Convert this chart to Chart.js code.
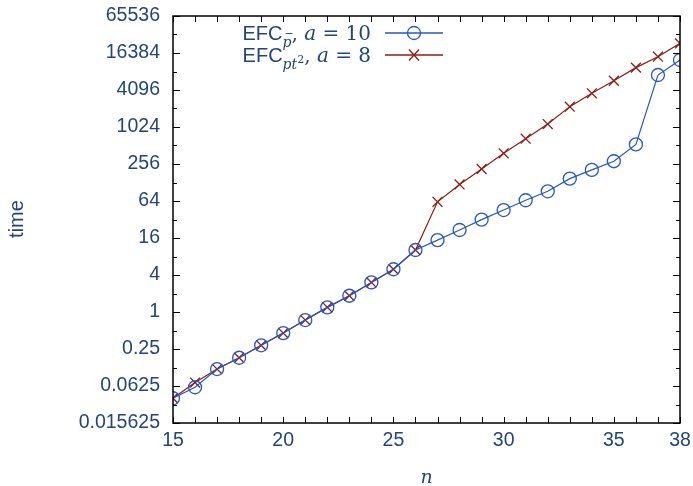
<!DOCTYPE html>
<html>
<head>
<meta charset="utf-8">
<script src="https://cdn.jsdelivr.net/npm/chart.js@4"></script>
<style>
  html, body { margin: 0; padding: 0; background: #fff; }
  #wrap { width: 693px; height: 486px; }
</style>
</head>
<body>
<div id="wrap"><canvas id="c" width="693" height="486"></canvas></div>
<script>
// values
const nValues = [15, 16, 17, 18, 19, 20, 21, 22, 23, 24, 25, 26, 27, 28, 29, 30, 31, 32, 33, 34, 35, 36, 37, 38]
const timeP = [0.0395, 0.0596, 0.118, 0.18, 0.287, 0.454, 0.74, 1.19, 1.84, 3.03, 4.96, 10.2,
  14.8, 21.6, 31.8, 45.6, 65.8, 92, 148, 205, 284, 534, 7180, 12600]
const timePt2 = [0.0395, 0.071, 0.118, 0.18, 0.287, 0.454, 0.74, 1.19, 1.84, 3.03, 4.96, 10.2,
  62, 119, 212, 382, 662, 1144, 2195, 3615, 5800, 9470, 14260, 23500]
const yTickValues = [0.015625, 0.0625, 0.25, 1, 4, 16, 64, 256, 1024, 4096, 16384, 65536]
const xTickValues = [15, 20, 25, 30, 35, 38]

const textColor = "#23457e"
const blue = "#2456cc"
const red = "#8e1c12"
const sans = "'Liberation Sans', sans-serif"
const serif = "'DejaVu Serif', serif"

const framePlugin = {
  id: "frame",
  afterDatasetsDraw(chart) {
    const { ctx, chartArea: a, scales } = chart
    const x = scales.x, y = scales.y
    ctx.save()
    ctx.strokeStyle = "#000"
    ctx.lineWidth = 1.5
    ctx.strokeRect(a.left, a.top, a.right - a.left, a.bottom - a.top)
    ctx.lineWidth = 1
    ctx.beginPath()
    for (let n = 15; n <= 38; n++) {
      const px = Math.round(x.getPixelForValue(n)) + 0.5
      ctx.moveTo(px, a.bottom); ctx.lineTo(px, a.bottom - 6)
      ctx.moveTo(px, a.top); ctx.lineTo(px, a.top + 6)
    }
    for (let e = -6; e <= 16; e++) {
      const py = Math.round(y.getPixelForValue(Math.pow(2, e))) + 0.5
      const len = e % 2 === 0 ? 7 : 4
      ctx.moveTo(a.left, py); ctx.lineTo(a.left + len, py)
      ctx.moveTo(a.right, py); ctx.lineTo(a.right - len, py)
    }
    ctx.stroke()

    // axis titles
    ctx.fillStyle = textColor
    ctx.font = "italic 19px " + serif
    ctx.textAlign = "center"
    ctx.textBaseline = "alphabetic"
    ctx.fillText("n", (a.left + a.right) / 2, 483)
    ctx.save()
    ctx.translate(17, 219)
    ctx.rotate(-Math.PI / 2)
    ctx.font = "20px " + sans
    ctx.textBaseline = "middle"
    ctx.fillText("time", 0, 0)
    ctx.restore()

    // legend
    drawLegendRow(ctx, 33, "p", "\u2212", "10", blue, "circle")
    drawLegendRow(ctx, 55, "pt", "2", "8", red, "cross")
    ctx.restore()
  }
}

function drawLegendRow(ctx, yMid, sub, sup, aVal, color, marker) {
  const base = yMid + 7
  ctx.font = "11px " + serif
  const supW = ctx.measureText(sup).width
  const parts = [
    { t: "EFC", f: "20px " + sans, dy: 0 },
    { t: sub, f: "italic 14px " + serif, dy: 7, sub: true },
    { t: ",", f: "20px " + serif, dy: 0 },
    { t: " a", f: "italic 20px " + serif, dy: 0 },
    { t: " = " + aVal, f: "20px " + serif, dy: 0 }
  ]
  let total = 0
  parts.forEach(p => {
    ctx.font = p.f
    p.w = ctx.measureText(p.t).width
    if (p.sub && sup === "2") p.w += supW
    total += p.w
  })
  let cx = 371 - total
  ctx.fillStyle = textColor
  ctx.textAlign = "left"
  ctx.textBaseline = "alphabetic"
  parts.forEach(p => {
    ctx.font = p.f
    ctx.fillText(p.t, cx, base + p.dy)
    if (p.sub) {
      ctx.font = "11px " + serif
      if (sup === "2") ctx.fillText(sup, cx + p.w - supW, base + 1)
      else ctx.fillText(sup, cx + 2, base - 3)
    }
    cx += p.w
  })
  ctx.strokeStyle = color
  ctx.lineWidth = 1.3
  ctx.beginPath()
  ctx.moveTo(385, yMid); ctx.lineTo(443, yMid)
  ctx.stroke()
  ctx.beginPath()
  if (marker === "circle") {
    ctx.arc(414, yMid, 6.5, 0, Math.PI * 2)
  } else {
    ctx.moveTo(409, yMid - 5.5); ctx.lineTo(419, yMid + 5.5)
    ctx.moveTo(409, yMid + 5.5); ctx.lineTo(419, yMid - 5.5)
  }
  ctx.stroke()
}

new Chart(document.getElementById("c").getContext("2d"), {
  type: "line",
  data: {
    datasets: [
      {
        label: "EFC p, a = 10",
        data: nValues.map((n, i) => ({ x: n, y: timeP[i] })),
        borderColor: blue,
        backgroundColor: "transparent",
        borderWidth: 1.2,
        pointStyle: "circle",
        pointRadius: 6.5,
        pointBorderWidth: 1.3,
        pointBorderColor: blue,
        pointBackgroundColor: "transparent",
        tension: 0
      },
      {
        label: "EFC pt2, a = 8",
        data: nValues.map((n, i) => ({ x: n, y: timePt2[i] })),
        borderColor: red,
        backgroundColor: "transparent",
        borderWidth: 1.2,
        pointStyle: "crossRot",
        pointRadius: 7,
        pointBorderWidth: 1.3,
        pointBorderColor: red,
        tension: 0
      }
    ]
  },
  options: {
    responsive: false,
    animation: false,
    devicePixelRatio: 1,
    layout: { padding: { top: 16, right: 13, left: 0, bottom: 0 } },
    plugins: { legend: { display: false }, tooltip: { enabled: false } },
    scales: {
      x: {
        type: "linear",
        min: 15,
        max: 38,
        afterBuildTicks: s => { s.ticks = xTickValues.map(v => ({ value: v })) },
        afterFit: s => { s.height = 63; s.paddingLeft = 0; s.paddingRight = 0 },
        grid: { display: false, drawTicks: false },
        border: { display: false },
        ticks: { color: textColor, font: { family: sans, size: 19.5 }, padding: 6, maxRotation: 0, autoSkip: false }
      },
      y: {
        type: "logarithmic",
        min: 0.015625,
        max: 65536,
        afterBuildTicks: s => { s.ticks = yTickValues.map(v => ({ value: v })) },
        afterFit: s => { s.width = 173; s.paddingTop = 0; s.paddingBottom = 0 },
        grid: { display: false, drawTicks: false },
        border: { display: false },
        ticks: {
          color: textColor,
          font: { family: sans, size: 19.5 },
          padding: 13,
          autoSkip: false,
          callback: v => String(v)
        }
      }
    }
  },
  plugins: [framePlugin]
})
</script>
</body>
</html>
